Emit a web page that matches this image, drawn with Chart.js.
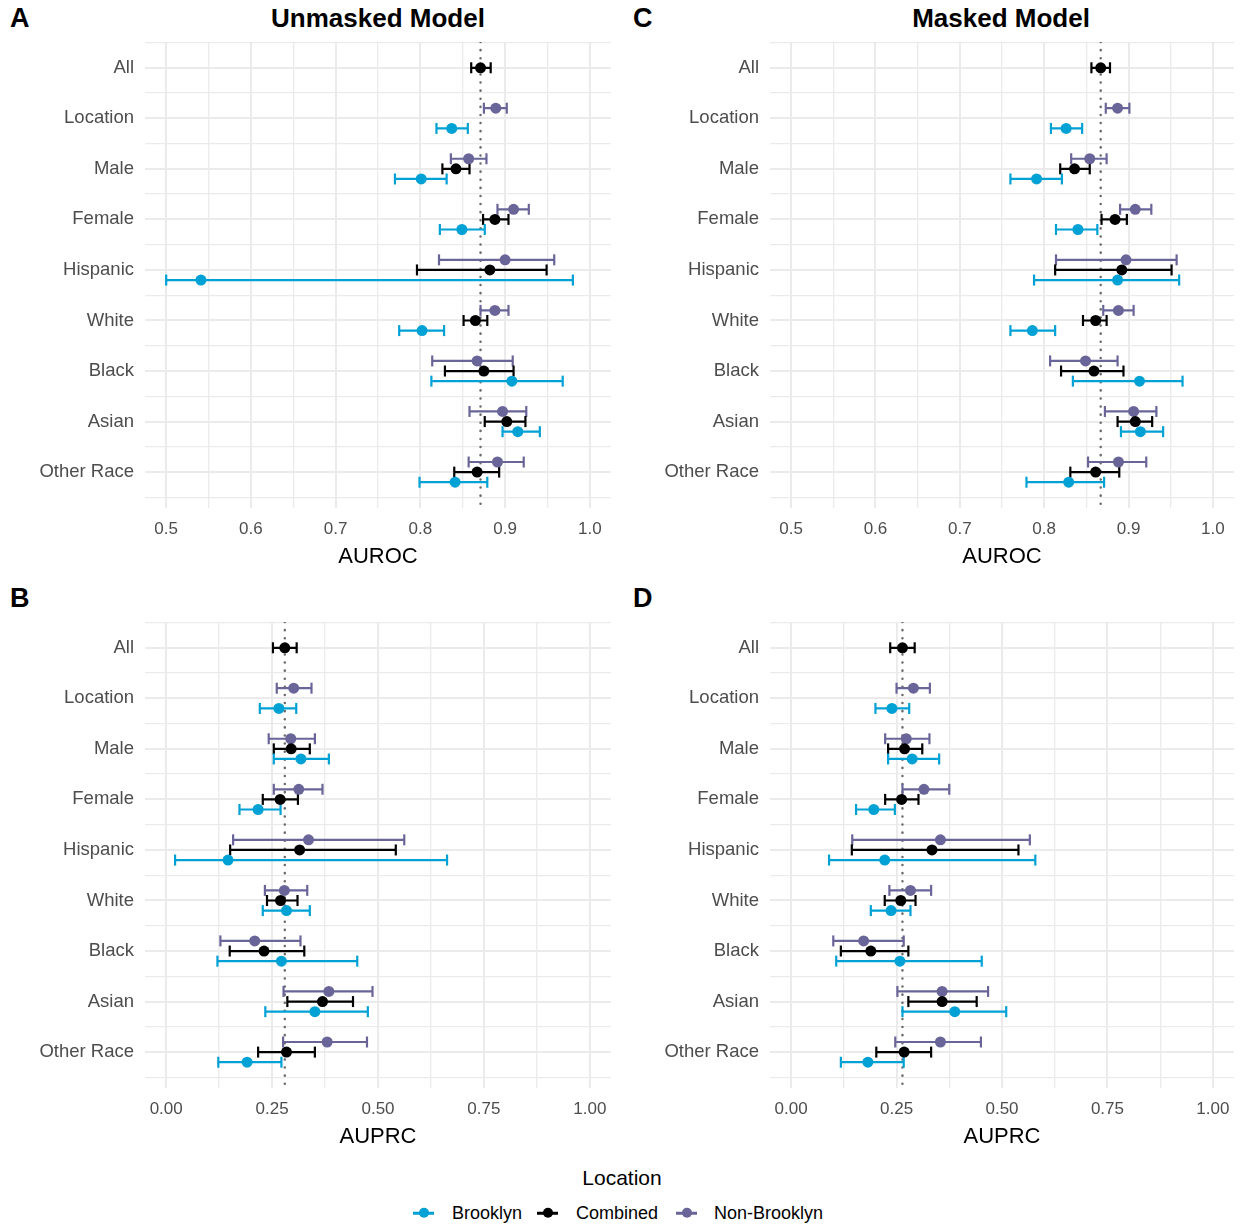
<!DOCTYPE html>
<html><head><meta charset="utf-8">
<script src="https://cdn.jsdelivr.net/npm/chart.js@4.4.1/dist/chart.umd.min.js"></script>
<style>
html,body{margin:0;padding:0;background:#fff;}
body{width:1245px;height:1230px;position:relative;overflow:hidden;font-family:"Liberation Sans",Arial,Helvetica,sans-serif;}
canvas{position:absolute;}
.t{position:absolute;line-height:1;white-space:nowrap;color:#000;}
.c{transform:translate(-50%,-50%);}
.l{transform:translate(0,-50%);}
.letter{font-weight:bold;font-size:27px;}
.title{font-weight:bold;font-size:26px;}
.legtitle{font-size:21px;}
.legitem{font-size:18px;}
.key{position:absolute;width:21px;height:2.5px;transform:translate(0,-50%);}
.dot{position:absolute;width:10px;height:10px;border-radius:50%;left:5.5px;top:-3.75px;}
</style></head><body>

<div class="t l letter" style="left:10px;top:18px">A</div>
<div class="t c title" style="left:378px;top:18px">Unmasked Model</div>
<div class="t l letter" style="left:633px;top:18px">C</div>
<div class="t c title" style="left:1001px;top:18px">Masked Model</div>
<div class="t l letter" style="left:10px;top:598px">B</div>
<div class="t l letter" style="left:633px;top:598px">D</div>

<canvas id="cA" width="631" height="570" style="left:0px;top:0px"></canvas>
<canvas id="cC" width="629" height="570" style="left:625px;top:0px"></canvas>
<canvas id="cB" width="631" height="570" style="left:0px;top:580px"></canvas>
<canvas id="cD" width="629" height="570" style="left:625px;top:580px"></canvas>

<div class="t c legtitle" style="left:622px;top:1177px">Location</div>
<div class="key" style="left:413px;top:1213px;background:#00A1D5"><div class="dot" style="background:#00A1D5"></div></div>
<div class="t l legitem" style="left:452px;top:1213px">Brooklyn</div>
<div class="key" style="left:537px;top:1213px;background:#000"><div class="dot" style="background:#000"></div></div>
<div class="t l legitem" style="left:576px;top:1213px">Combined</div>
<div class="key" style="left:676px;top:1213px;background:#6A6599"><div class="dot" style="background:#6A6599"></div></div>
<div class="t l legitem" style="left:714px;top:1213px">Non-Brooklyn</div>

<script>
const categories = ['All','Location','Male','Female','Hispanic','White','Black','Asian','Other Race'];
const seriesNames = ['Brooklyn','Combined','Non-Brooklyn'];
const seriesColors = ['#00A1D5','#000000','#6A6599'];

// Panel A: Unmasked model, AUROC
const unmaskedAurocBrooklynMean = [null, 0.837, 0.801, 0.849, 0.541, 0.802, 0.908, 0.915, 0.841];
const unmaskedAurocBrooklynLow  = [null, 0.819, 0.770, 0.823, 0.500, 0.775, 0.813, 0.897, 0.799];
const unmaskedAurocBrooklynHigh = [null, 0.856, 0.831, 0.876, 0.980, 0.828, 0.968, 0.941, 0.879];
const unmaskedAurocCombinedMean = [0.871, null, 0.842, 0.888, 0.882, 0.865, 0.875, 0.902, 0.867];
const unmaskedAurocCombinedLow  = [0.860, null, 0.826, 0.874, 0.796, 0.851, 0.829, 0.876, 0.840];
const unmaskedAurocCombinedHigh = [0.883, null, 0.858, 0.904, 0.949, 0.879, 0.910, 0.924, 0.893];
const unmaskedAurocNonBrooklynMean = [null, 0.889, 0.857, 0.910, 0.900, 0.888, 0.867, 0.897, 0.891];
const unmaskedAurocNonBrooklynLow  = [null, 0.875, 0.836, 0.891, 0.822, 0.871, 0.814, 0.858, 0.857];
const unmaskedAurocNonBrooklynHigh = [null, 0.902, 0.878, 0.928, 0.958, 0.904, 0.909, 0.925, 0.922];

// Panel C: Masked model, AUROC
const maskedAurocBrooklynMean = [null, 0.826, 0.791, 0.840, 0.887, 0.786, 0.913, 0.914, 0.829];
const maskedAurocBrooklynLow  = [null, 0.808, 0.760, 0.814, 0.788, 0.760, 0.834, 0.891, 0.779];
const maskedAurocBrooklynHigh = [null, 0.845, 0.821, 0.863, 0.960, 0.813, 0.964, 0.941, 0.871];
const maskedAurocCombinedMean = [0.867, null, 0.836, 0.884, 0.892, 0.861, 0.859, 0.908, 0.861];
const maskedAurocCombinedLow  = [0.856, null, 0.819, 0.868, 0.813, 0.846, 0.820, 0.887, 0.831];
const maskedAurocCombinedHigh = [0.878, null, 0.854, 0.898, 0.951, 0.874, 0.894, 0.928, 0.889];
const maskedAurocNonBrooklynMean = [null, 0.887, 0.854, 0.908, 0.897, 0.888, 0.849, 0.906, 0.888];
const maskedAurocNonBrooklynLow  = [null, 0.873, 0.832, 0.890, 0.814, 0.870, 0.807, 0.872, 0.852];
const maskedAurocNonBrooklynHigh = [null, 0.901, 0.874, 0.927, 0.957, 0.906, 0.887, 0.933, 0.921];

// Panel B: Unmasked model, AUPRC
const unmaskedAuprcBrooklynMean = [null, 0.266, 0.318, 0.217, 0.146, 0.284, 0.272, 0.351, 0.191];
const unmaskedAuprcBrooklynLow  = [null, 0.221, 0.254, 0.173, 0.021, 0.228, 0.121, 0.234, 0.123];
const unmaskedAuprcBrooklynHigh = [null, 0.307, 0.384, 0.270, 0.663, 0.339, 0.451, 0.476, 0.272];
const unmaskedAuprcCombinedMean = [0.280, null, 0.295, 0.269, 0.315, 0.270, 0.231, 0.369, 0.284];
const unmaskedAuprcCombinedLow  = [0.252, null, 0.254, 0.228, 0.151, 0.238, 0.150, 0.286, 0.217];
const unmaskedAuprcCombinedHigh = [0.308, null, 0.339, 0.311, 0.542, 0.310, 0.326, 0.441, 0.351];
const unmaskedAuprcNonBrooklynMean = [null, 0.301, 0.294, 0.313, 0.336, 0.279, 0.209, 0.384, 0.380];
const unmaskedAuprcNonBrooklynLow  = [null, 0.261, 0.242, 0.254, 0.158, 0.233, 0.128, 0.277, 0.276];
const unmaskedAuprcNonBrooklynHigh = [null, 0.343, 0.351, 0.369, 0.562, 0.333, 0.317, 0.487, 0.474];

// Panel D: Masked model, AUPRC
const maskedAuprcBrooklynMean = [null, 0.239, 0.287, 0.196, 0.222, 0.237, 0.258, 0.388, 0.182];
const maskedAuprcBrooklynLow  = [null, 0.200, 0.230, 0.154, 0.090, 0.189, 0.107, 0.264, 0.118];
const maskedAuprcBrooklynHigh = [null, 0.280, 0.351, 0.246, 0.579, 0.283, 0.452, 0.510, 0.267];
const maskedAuprcCombinedMean = [0.264, null, 0.269, 0.262, 0.334, 0.260, 0.189, 0.358, 0.268];
const maskedAuprcCombinedLow  = [0.235, null, 0.230, 0.223, 0.144, 0.222, 0.118, 0.278, 0.202];
const maskedAuprcCombinedHigh = [0.293, null, 0.311, 0.302, 0.539, 0.295, 0.278, 0.440, 0.332];
const maskedAuprcNonBrooklynMean = [null, 0.290, 0.273, 0.315, 0.354, 0.283, 0.172, 0.358, 0.354];
const maskedAuprcNonBrooklynLow  = [null, 0.250, 0.223, 0.264, 0.145, 0.233, 0.100, 0.252, 0.247];
const maskedAuprcNonBrooklynHigh = [null, 0.329, 0.328, 0.375, 0.566, 0.332, 0.267, 0.467, 0.450];

// Tick values and labels
const aurocGrid = [0.5, 0.55, 0.6, 0.65, 0.7, 0.75, 0.8, 0.85, 0.9, 0.95, 1.0];
const aurocTickValues = [0.5, 0.6, 0.7, 0.8, 0.9, 1.0];
const aurocTickLabels = ['0.5', '0.6', '0.7', '0.8', '0.9', '1.0'];
const auprcGrid = [0, 0.125, 0.25, 0.375, 0.5, 0.625, 0.75, 0.875, 1.0];
const auprcTickValues = [0, 0.25, 0.5, 0.75, 1.0];
const auprcTickLabels = ['0.00', '0.25', '0.50', '0.75', '1.00'];
const rowGrid = [0.5, 1, 1.5, 2, 2.5, 3, 3.5, 4, 4.5, 5, 5.5, 6, 6.5, 7, 7.5, 8, 8.5, 9, 9.5];
const rowPositions = [1, 2, 3, 4, 5, 6, 7, 8, 9];
const dodge = [0.2, 0, -0.2];

const FONT = '"Liberation Sans", Arial, Helvetica, sans-serif';
const Y_MIN = 0.49, Y_MAX = 9.71;

function buildPanel(id, series, ref, xMin, xMax, grid, tickVals, tickLabels, axisTitle) {
  const datasets = [];
  series.forEach((s, k) => {
    const pts = [], bars = [];
    categories.forEach((c, i) => {
      if (s.mean[i] === null) return;
      const y = rowPositions[i] + dodge[k];
      pts.push({x: s.mean[i], y: y});
      bars.push({x: s.lo[i], y: y}, {x: s.hi[i], y: y}, {x: NaN, y: NaN});
    });
    datasets.push({
      type: 'scatter', label: seriesNames[k], data: pts,
      pointRadius: 5.5, pointBackgroundColor: seriesColors[k], pointBorderWidth: 0, order: 0
    });
    datasets.push({
      type: 'line', label: seriesNames[k] + ' CI', data: bars,
      borderColor: seriesColors[k], borderWidth: 2.2, spanGaps: false, tension: 0, fill: false,
      pointStyle: 'line', pointRotation: 90, pointRadius: 5.5,
      pointBorderColor: seriesColors[k], pointBorderWidth: 2.2, order: 1
    });
  });
  datasets.push({
    type: 'line', label: 'ref', data: [{x: ref, y: Y_MIN}, {x: ref, y: Y_MAX}],
    borderColor: '#6b6b6b', borderWidth: 2.5, borderDash: [0.1, 8], borderCapStyle: 'round',
    pointRadius: 0, fill: false, order: 2
  });

  new Chart(document.getElementById(id), {
    type: 'scatter',
    data: {datasets},
    options: {
      responsive: false, animation: false, devicePixelRatio: 1,
      layout: {padding: {top: 42, right: 20, bottom: 0, left: 0}},
      plugins: {legend: {display: false}, tooltip: {enabled: false}},
      scales: {
        x: {
          type: 'linear', min: xMin, max: xMax,
          afterBuildTicks: ax => { ax.ticks = grid.map(v => ({value: v})); },
          afterFit: ax => { ax.height = 62; },
          border: {display: false},
          grid: {
            color: '#ebebeb', drawTicks: false,
            lineWidth: ctx => (ctx.tick && tickVals.some(t => Math.abs(t - ctx.tick.value) < 1e-9)) ? 2 : 1.3
          },
          ticks: {
            autoSkip: false, maxRotation: 0, minRotation: 0, padding: 11, color: '#4d4d4d',
            font: {family: FONT, size: 17},
            callback: (v) => {
              const j = tickVals.findIndex(t => Math.abs(t - v) < 1e-9);
              return j >= 0 ? tickLabels[j] : '';
            }
          },
          title: {display: true, text: axisTitle, color: '#000', font: {family: FONT, size: 22}, padding: {top: 0, bottom: 0}}
        },
        y: {
          type: 'linear', reverse: true, min: Y_MIN, max: Y_MAX,
          afterBuildTicks: ax => { ax.ticks = rowGrid.map(v => ({value: v})); },
          afterFit: ax => { ax.width = 145; },
          border: {display: false},
          grid: {
            color: '#ebebeb', drawTicks: false,
            lineWidth: ctx => (ctx.tick && Number.isInteger(ctx.tick.value)) ? 2 : 1.3
          },
          ticks: {
            autoSkip: false, padding: 11, color: '#4d4d4d',
            font: {family: FONT, size: 18.5},
            callback: (v) => {
              const j = rowPositions.indexOf(v);
              return j >= 0 ? categories[j] : '';
            }
          }
        }
      }
    }
  });
}

buildPanel('cA', [
  {mean: unmaskedAurocBrooklynMean, lo: unmaskedAurocBrooklynLow, hi: unmaskedAurocBrooklynHigh},
  {mean: unmaskedAurocCombinedMean, lo: unmaskedAurocCombinedLow, hi: unmaskedAurocCombinedHigh},
  {mean: unmaskedAurocNonBrooklynMean, lo: unmaskedAurocNonBrooklynLow, hi: unmaskedAurocNonBrooklynHigh}
], unmaskedAurocCombinedMean[0], 0.475, 1.025, aurocGrid, aurocTickValues, aurocTickLabels, 'AUROC');

buildPanel('cC', [
  {mean: maskedAurocBrooklynMean, lo: maskedAurocBrooklynLow, hi: maskedAurocBrooklynHigh},
  {mean: maskedAurocCombinedMean, lo: maskedAurocCombinedLow, hi: maskedAurocCombinedHigh},
  {mean: maskedAurocNonBrooklynMean, lo: maskedAurocNonBrooklynLow, hi: maskedAurocNonBrooklynHigh}
], maskedAurocCombinedMean[0], 0.475, 1.025, aurocGrid, aurocTickValues, aurocTickLabels, 'AUROC');

buildPanel('cB', [
  {mean: unmaskedAuprcBrooklynMean, lo: unmaskedAuprcBrooklynLow, hi: unmaskedAuprcBrooklynHigh},
  {mean: unmaskedAuprcCombinedMean, lo: unmaskedAuprcCombinedLow, hi: unmaskedAuprcCombinedHigh},
  {mean: unmaskedAuprcNonBrooklynMean, lo: unmaskedAuprcNonBrooklynLow, hi: unmaskedAuprcNonBrooklynHigh}
], unmaskedAuprcCombinedMean[0], -0.05, 1.05, auprcGrid, auprcTickValues, auprcTickLabels, 'AUPRC');

buildPanel('cD', [
  {mean: maskedAuprcBrooklynMean, lo: maskedAuprcBrooklynLow, hi: maskedAuprcBrooklynHigh},
  {mean: maskedAuprcCombinedMean, lo: maskedAuprcCombinedLow, hi: maskedAuprcCombinedHigh},
  {mean: maskedAuprcNonBrooklynMean, lo: maskedAuprcNonBrooklynLow, hi: maskedAuprcNonBrooklynHigh}
], maskedAuprcCombinedMean[0], -0.05, 1.05, auprcGrid, auprcTickValues, auprcTickLabels, 'AUPRC');
</script>
</body></html>
